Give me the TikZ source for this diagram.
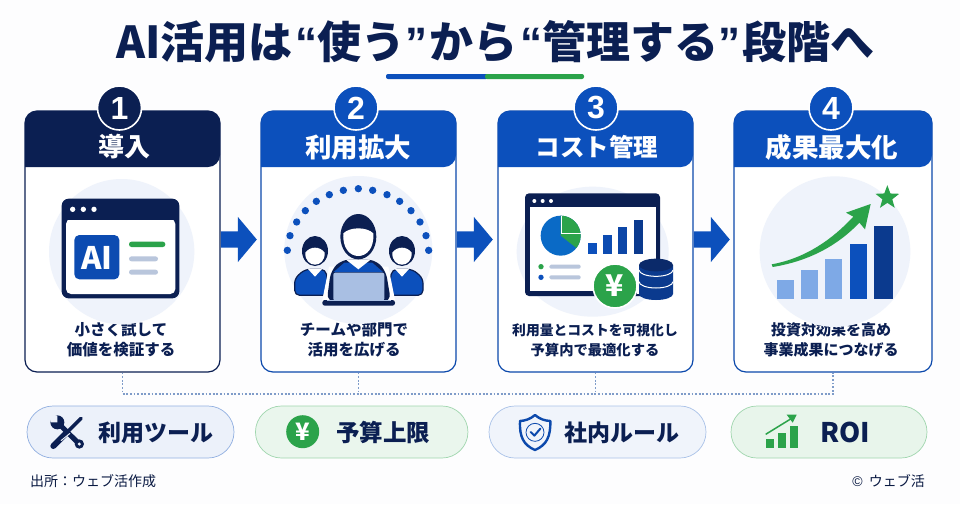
\documentclass[tikz,border=0pt]{standalone}
\usepackage{fontspec}
\setmainfont{Noto Sans CJK JP}
\newfontfamily\qf{Liberation Sans}
\newfontfamily\lf{Liberation Sans}
\usetikzlibrary{shapes.geometric,shapes.arrows}
\definecolor{navy}{HTML}{0B1F52}
\definecolor{blu}{HTML}{0C50BC}
\definecolor{blud}{HTML}{0B3A8E}
\definecolor{grn}{HTML}{2BA34A}
\definecolor{halo}{HTML}{EFF3FB}
\definecolor{gry}{HTML}{B9C6DC}
\definecolor{ltb}{HTML}{7EA9E6}
\definecolor{dotc}{HTML}{7F9CC9}
\definecolor{scrn}{HTML}{A9BFE3}
\definecolor{pagebg}{HTML}{FDFDFE}
\newcommand{\fsz}[1]{\fontsize{#1}{#1}\selectfont}
\tikzset{
 cardbox/.style={draw=#1,line width=1.2pt,rounded corners=12pt,fill=white,minimum height=261pt,inner sep=0pt},
 numdisc/.style={circle,fill=#1,draw=white,line width=1.6pt,minimum size=44pt,inner sep=0pt,text=white,font=\lf\bfseries\fsz{32}},
 headtxt/.style={text=white,font=\bfseries\fsz{#1},inner sep=0pt},
 bodytxt/.style={text=navy,font=\bfseries\fsz{#1},align=center,inner sep=0pt},
 flowarrow/.style={single arrow,fill=blu,draw=none,minimum height=36pt,minimum width=45pt,single arrow head extend=14.5pt,single arrow tip angle=100,inner sep=0pt,anchor=tail},
 pillbox/.style n args={2}{rounded corners=26pt,fill=#1,draw=#2,line width=.7pt,minimum height=52pt,inner sep=0pt},
 pilltxt/.style={text=navy,font=\bfseries\fsz{#1},inner sep=0pt},
 busline/.style={draw=dotc,line width=1.1pt,dash pattern=on 1.8pt off 1.8pt},
 z/.style 2 args={shift={(#1,#2)},x=.33333pt,y=-.33333pt}
}
\begin{document}
\begin{tikzpicture}[x=1pt,y=-1pt]
\useasboundingbox (0,0) rectangle (960,504);
\fill[pagebg] (0,0) rectangle (960,504);
% title
\node[text=navy,font=\bfseries\fsz{44},inner sep=0pt] (title) at (495.5,42) {AI活用は\hspace{3pt}{\qf “}使う{\qf ”}\hspace{2pt}から\hspace{3pt}{\qf “}管理する{\qf ”}\hspace{2pt}段階へ};
\fill[blu,rounded corners=2pt] (386,74) rectangle (488,79);
\fill[grn,rounded corners=2pt] (485,74) rectangle (584,79);
% cards
\node[cardbox=navy,minimum width=195pt] (card1) at (122.5,241.5) {};
\node[cardbox=blu!85!navy,minimum width=195pt] (card2) at (358.5,241.5) {};
\node[cardbox=blu!85!navy,minimum width=195pt] (card3) at (595.5,241.5) {};
\node[cardbox=blu!85!navy,minimum width=198pt] (card4) at (833,241.5) {};
\fill[navy,rounded corners=12pt] (25,167) -- (25,111) -- (220,111) -- (220,167) [sharp corners] -- cycle;
\fill[blu,rounded corners=12pt] (261,167) -- (261,111) -- (456,111) -- (456,167) [sharp corners] -- cycle;
\fill[blu,rounded corners=12pt] (498,167) -- (498,111) -- (693,111) -- (693,167) [sharp corners] -- cycle;
\fill[blu,rounded corners=12pt] (734,167) -- (734,111) -- (932,111) -- (932,167) [sharp corners] -- cycle;
\node[numdisc=navy] (num1) at (119.5,108) {1};
\node[numdisc=blu] (num2) at (356,108) {2};
\node[numdisc=blu] (num3) at (596,108) {3};
\node[numdisc=blu] (num4) at (831,108) {4};
\node[headtxt=26] (head1) at (124,147) {導入};
\node[headtxt=26.5] (head2) at (358,147) {利用拡大};
\node[headtxt=24.5] (head3) at (597,147) {コスト管理};
\node[headtxt=26.5] (head4) at (832,147) {成果最大化};
\node[bodytxt=15.5] (body1) at (121,340) {小さく試して\\[4.5pt]価値を検証する};
\node[bodytxt=15.5] (body2) at (354,340) {チームや部門で\\[4.5pt]活用を広げる};
\node[bodytxt=13.8] (body3) at (595,340) {利用量とコストを可視化し\\[6pt]\fsz{14.3}予算内で最適化する};
\node[bodytxt=15] (body4) at (831,340) {投資対効果を高め\\[5pt]事業成果につなげる};
% flow arrows
\node[flowarrow] (arrow1) at ([yshift=2pt]card1.east) {\rule{0pt}{16pt}};
\node[flowarrow] (arrow2) at ([yshift=2pt]card2.east) {\rule{0pt}{16pt}};
\node[flowarrow] (arrow3) at ([yshift=2pt]card3.east) {\rule{0pt}{16pt}};
% dotted bus
\coordinate (bus1) at (card1.south |- 0,394);
\coordinate (bus2) at (card2.south |- 0,394);
\coordinate (bus3) at (card3.south |- 0,394);
\coordinate (bus4) at (card4.south |- 0,394);
\draw[busline] (card1.south) -- (bus1) -- (bus4) -- (card4.south);
\draw[busline] (card2.south) -- (bus2);
\draw[busline] (card3.south) -- (bus3);
% icon 1
\begin{scope}[z={0}{70}]
\fill[halo] (365,545) circle[radius=218];
\fill[navy,rounded corners=7pt] (185,386) rectangle (538,685);
\fill[white,rounded corners=5pt] (198,447) rectangle (526,672);
\fill[navy] (198,440) rectangle (526,449);
\foreach \q in {218,250,282}\fill[white] (\q,418) circle[radius=8];
\fill[blu!90!navy,rounded corners=5pt] (223,495) rectangle (358,628);
\node[text=white,font=\bfseries\fsz{31},inner sep=0pt] (ailabel) at (291,563) {AI};
\fill[grn,rounded corners=2.5pt] (387,515) rectangle (496,531);
\fill[gry,rounded corners=2.5pt] (387,559) rectangle (474,574);
\fill[gry,rounded corners=2.5pt] (387,599) rectangle (474,614);
\end{scope}
% icon 2
\begin{scope}[z={255}{70}]
\fill[halo] (310,540) circle[radius=222];
\foreach \p/\q in {97/541,105/497,125/456,151/422,184/394,223/374,265/361,310/356,353/361,396/374,434/394,468/422,495/456,513/497,521/541}
 \fill[blu] (\p,\q) circle[radius=11];
% side people
\foreach \c in {180,441}{
 \fill[navy] (\c,543) ellipse[x radius=39,y radius=45];
 \fill[white] (\c-29,548) .. controls (\c-15,528) and (\c+15,528) .. (\c+29,548) .. controls (\c+30,572) and (\c+15,584) .. (\c,584) .. controls (\c-15,584) and (\c-30,572) .. (\c-29,548) -- cycle;
}
\filldraw[fill=blu,draw=navy,line width=1.2pt,rounded corners=5pt] (119,676) -- (119,625) -- (150,598) -- (212,598) -- (225,676) -- cycle;
\filldraw[fill=blu,draw=navy,line width=1.2pt,rounded corners=5pt] (504,676) -- (504,625) -- (473,598) -- (411,598) -- (398,676) -- cycle;
\fill[white] (158,596) -- (202,596) -- (180,620) -- cycle;
\fill[white] (419,596) -- (463,596) -- (441,620) -- cycle;
% centre person
\fill[white] (200,700) -- (222,590) -- (400,590) -- (422,700) -- cycle;
\fill[navy,rounded corners=8pt] (215,695) -- (228,600) -- (262,568) -- (358,568) -- (392,600) -- (408,695) -- cycle;
\fill[blu] (236,606) -- (268,578) -- (352,578) -- (384,606) -- cycle;
\fill[white] (272,568) -- (348,568) -- (310,598) -- cycle;
\fill[navy] (310,500) ellipse[x radius=54,y radius=68];
\fill[white] (265,490) .. controls (285,470) and (335,470) .. (355,490) .. controls (358,535) and (335,558) .. (310,558) .. controls (285,558) and (262,535) .. (265,490) -- cycle;
\fill[scrn,rounded corners=2pt] (235,608) rectangle (388,692);
\fill[navy,rounded corners=2.5pt] (202,690) rectangle (420,707);
\fill[scrn] (215,690) rectangle (408,694);
\end{scope}
% icon 3
\begin{scope}[z={490}{70}]
\fill[halo] (308,545) ellipse[x radius=228,y radius=195];
\fill[navy,rounded corners=4pt] (105,370) rectangle (510,678);
\fill[white] (120,412) rectangle (497,663);
\foreach \q in {133,158,183}\fill[white] (\q,393) circle[radius=6];
\fill[blu!85!cyan] (212,497) circle[radius=60];
\fill[grn] (212,497) -- (212,437) arc[start angle=-90,end angle=38,radius=60] -- cycle;
\draw[white,line width=1pt] (215,437) -- (215,490) -- (275,490);
\fill[blu] (295,520) rectangle (322,552);
\fill[blu!90!navy] (338,495) rectangle (366,552);
\fill[blu!80!navy] (384,472) rectangle (412,552);
\fill[blud] (431,450) rectangle (459,552);
\fill[grn] (153,590) circle[radius=8];
\fill[blu] (153,622) circle[radius=8];
\fill[gry,rounded corners=1.5pt] (178,584) rectangle (272,596);
\fill[gry,rounded corners=1.5pt] (178,616) rectangle (272,628);
% coins
\fill[white] (440,585) rectangle (447,672);
\fill[blud] (447,585) -- (447,672) arc[start angle=180,end angle=0,x radius=51,y radius=18] -- (549,585) -- cycle;
\fill[navy!60!blud] (498,585) ellipse[x radius=51,y radius=19];
\draw[white,line width=1pt] (447,600) arc[start angle=180,end angle=0,x radius=51,y radius=19];
\draw[white,line width=1pt] (447,635) arc[start angle=180,end angle=0,x radius=51,y radius=19];
\node[circle,fill=grn,draw=white,line width=1.6pt,minimum size=44pt,inner sep=0pt,text=white,font=\bfseries\fsz{30}] (yen1) at (375,648) {¥};
\end{scope}
% icon 4
\begin{scope}[z={725}{70}]
\fill[halo] (330,545) circle[radius=226];
\fill[ltb] (155,630) rectangle (207,687);
\fill[ltb] (228,600) rectangle (279,687);
\fill[ltb] (300,567) rectangle (351,687);
\fill[blu] (374,521) rectangle (425,687);
\fill[blud] (447,468) rectangle (504,687);
\fill[grn] (140,583) .. controls (240,565) and (320,510) .. (385,440) -- (363,428) -- (437,402) -- (420,478) -- (403,458) .. controls (345,520) and (260,572) .. (143,591) -- cycle;
\node[star,star points=5,star point ratio=2.4,fill=grn,minimum size=25pt,inner sep=0pt] (star1) at (487,383) {};
\end{scope}
% pills
\node[pillbox={blu!8}{blu!45}, minimum width=207pt] (pill1) at (130.5,432) {};
\node[pillbox={grn!10}{grn!45}, minimum width=212.5pt] (pill2) at (361.7,432) {};
\node[pillbox={blu!6}{blu!35}, minimum width=217pt] (pill3) at (597.5,432) {};
\node[pillbox={grn!11}{grn!45}, minimum width=196pt] (pill4) at (829,432) {};
\node[pilltxt=23] (ptxt1) at (155.5,432.5) {利用ツール};
\node[pilltxt=23.5] (ptxt2) at (383,432.5) {予算上限};
\node[pilltxt=23] (ptxt3) at (622,432.5) {社内ルール};
\node[pilltxt=27] (ptxt4) at (845,432.5) {ROI};
% tools icon
\begin{scope}[z={0}{370}]
\draw[navy,line width=5pt,line cap=round] (168,153) -- (238,222);
\fill[navy] (172,157) circle[radius=21];
\fill[blu!8] (148,132) -- (172,137) -- (172,157) -- (152,157) -- cycle;
\fill[navy] (238,222) circle[radius=14];
\fill[blu!8] (238,222) circle[radius=5];
\draw[navy,line width=6pt,line cap=round] (160,228) -- (198,190);
\draw[navy,line width=3.6pt,line cap=round] (198,190) -- (243,145);
\draw[blu!8,line width=1pt] (183,212) -- (210,190);
\end{scope}
% yen pill icon
\node[circle,fill=grn,minimum size=33pt,inner sep=0pt,text=white,font=\bfseries\fsz{24}] (yen2) at (302.7,431.7) {¥};
% shield
\begin{scope}[z={480}{370}]
\draw[blu!85!navy,line width=2.4pt,line join=round] (165,135) .. controls (150,148) and (135,152) .. (120,153) .. controls (118,200) and (130,225) .. (165,240) .. controls (200,225) and (212,200) .. (211,153) .. controls (195,152) and (180,148) .. (165,135) -- cycle;
\draw[blu!85!navy,line width=.8pt] (165,187) circle[radius=27];
\draw[blu!85!navy,line width=2pt,line cap=round,line join=round] (152,186) -- (163,197) -- (181,176);
% chart
\fill[grn] (858,208) rectangle (882,233);
\fill[grn] (894,190) rectangle (918,233);
\fill[grn] (930,167) rectangle (955,233);
\draw[grn,line width=1.5pt] (857,193) -- (935,145);
\fill[grn] (950,134) -- (920,134) -- (938,158) -- cycle;
\end{scope}
% footer
\node[anchor=west,text=navy!80!black,font=\fsz{14},inner sep=0pt] (source) at (30,481) {出所：ウェブ活作成};
\node[anchor=east,text=navy!80!black,font=\fsz{14},inner sep=0pt] (copy) at (925,481) {{\qf ©}\hspace{6pt}ウェブ活};
\end{tikzpicture}
\end{document}
